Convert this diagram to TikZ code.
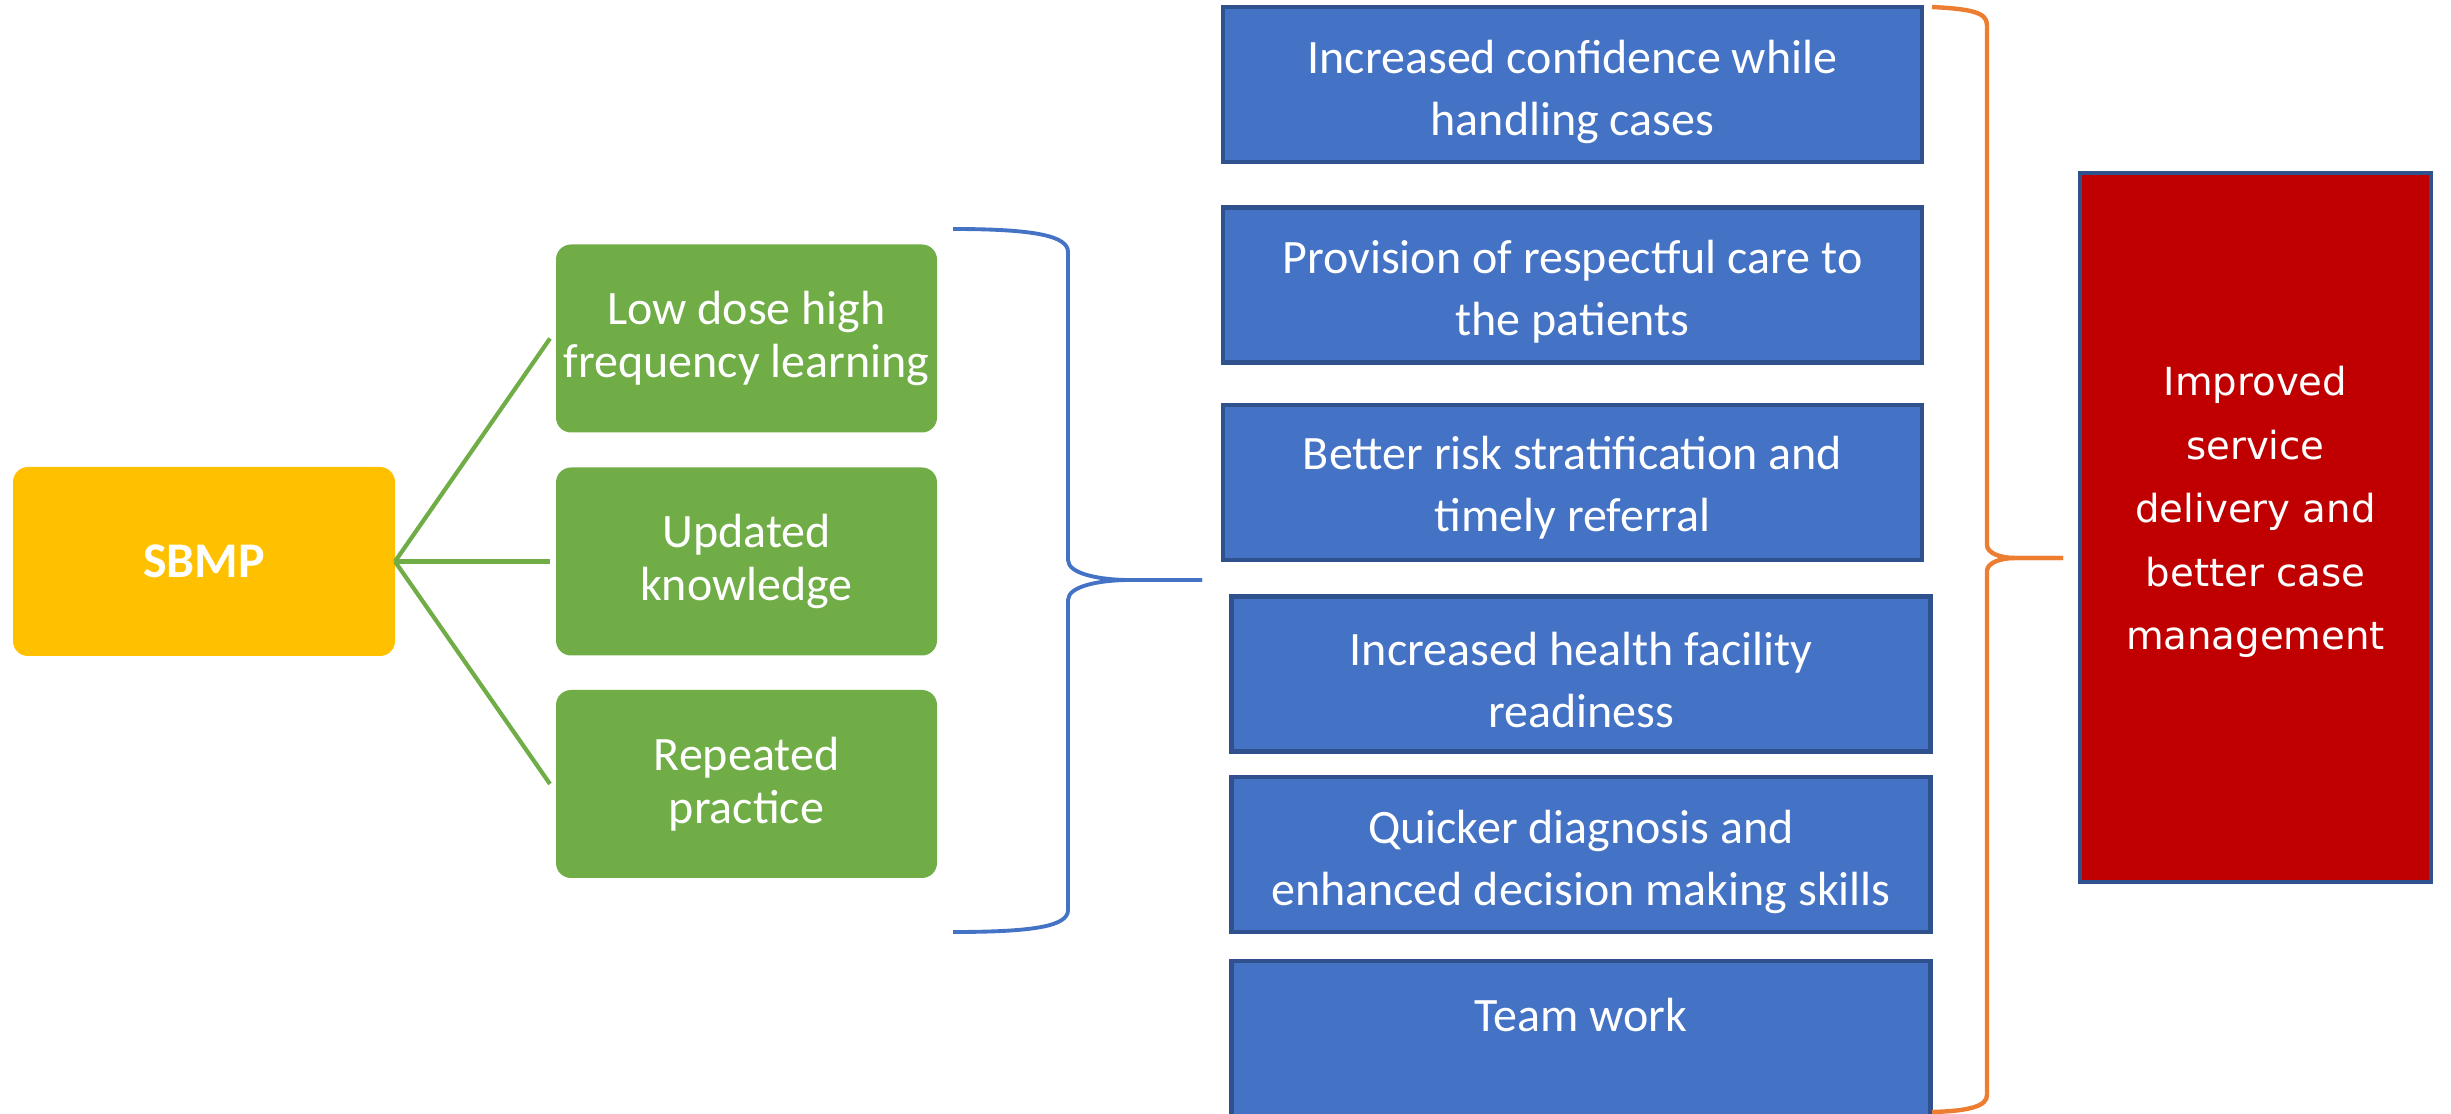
\documentclass[tikz,border=0pt]{standalone}
\usepackage{fontspec}
\setmainfont{Carlito}
\newfontfamily\verdfont{DejaVu Sans}
\definecolor{bluefill}{HTML}{4472C4}
\definecolor{blueline}{HTML}{2F528F}
\definecolor{greenfill}{HTML}{70AD47}
\definecolor{goldfill}{HTML}{FFC000}
\definecolor{redfill}{HTML}{C00000}
\definecolor{orangeline}{HTML}{ED7D31}
\begin{document}
\begin{tikzpicture}[x=0.1mm,y=-0.1mm,
  bluebox/.style={draw=blueline, fill=bluefill, line width=1.3pt, inner sep=0pt, outer sep=0pt, minimum width=69.9mm, minimum height=15.5mm},
  bluetext/.style={text=white, align=center, inner sep=0pt, font=\fontsize{13.66}{17.64}\selectfont},
  greenbox/.style={fill=greenfill, rounded corners=1.5mm, inner sep=0pt, outer sep=0pt, minimum width=38.1mm, minimum height=18.8mm, text=white, align=center, font=\fontsize{13.66}{15.08}\selectfont},
  gline/.style={draw=greenfill, line width=1.2pt},
  bbrace/.style={draw=bluefill, line width=1.1pt},
  obrace/.style={draw=orangeline, line width=1.25pt}]
\useasboundingbox (0,0) rectangle (2451,1114);

% left part
\node[fill=goldfill, rounded corners=1.5mm, inner sep=0pt, outer sep=0pt, minimum width=38.2mm, minimum height=18.9mm, text=white, font=\fontsize{14.2}{17}\selectfont\bfseries] (sbmp) at (204,561.5) {SBMP};
\node[greenbox] (g1) at (746.5,338.5) {Low dose high\\frequency learning};
\node[greenbox] (g2) at (746.5,561.5) {Updated\\knowledge};
\node[greenbox] (g3) at (746.5,784) {Repeated\\practice};
\draw[gline] (sbmp.east) -- ([xshift=-0.6mm]g1.west);
\draw[gline] (sbmp.east) -- ([xshift=-0.6mm]g2.west);
\draw[gline] (sbmp.east) -- ([xshift=-0.6mm]g3.west);

% blue brace
\coordinate (bt) at (953,229);
\coordinate (bb) at (953,932);
\coordinate (btip) at (1202,580);
\draw[bbrace] (bt) .. controls (1035,229) and (1068,236) .. (1068,252) -- (1068,560) .. controls (1068,574) and (1100,580) .. (1130,580) -- (btip);
\draw[bbrace] (btip) -- (1130,580) .. controls (1100,580) and (1068,586) .. (1068,600) -- (1068,910) .. controls (1068,926) and (1035,932) .. (bb);

% blue boxes
\node[bluebox] (b1) at (1572.5,84.5) {};
\node[bluebox] (b2) at (1572.5,285) {};
\node[bluebox] (b3) at (1572.5,482.5) {};
\node[bluebox] (b4) at (1581,674) {};
\node[bluebox] (b5) at (1581,854.5) {};
\node[bluebox, minimum height=16.8mm] (b6) at (1581,1045) {};
\node[bluetext] (t1) at (1572.5,91.5) {Increased confidence while\\handling cases};
\node[bluetext] (t2) at (1572.5,291.5) {Provision of respectful care to\\the patients};
\node[bluetext] (t3) at (1572.5,488) {Better risk stratification and\\timely referral};
\node[bluetext] (t4) at (1581,680) {Increased health facility\\readiness};
\node[bluetext] (t5) at (1581,862) {Quicker diagnosis and\\enhanced decision making skills};
\node[bluetext] (t6) at (1581,1015) {Team work};

% orange brace
\coordinate (ot) at (1932,7);
\coordinate (ob) at (1932,1112);
\coordinate (otip) at (2063,558);
\draw[obrace] (ot) .. controls (1970,9) and (1987,12) .. (1987,25) -- (1987,545) .. controls (1987,553) and (2000,558) .. (2015,558) -- (otip);
\draw[obrace] (otip) -- (2015,558) .. controls (2000,558) and (1987,563) .. (1987,571) -- (1987,1095) .. controls (1987,1106) and (1970,1111) .. (ob);

% red box
\node[draw=blueline, fill=redfill, line width=1.3pt, inner sep=0pt, outer sep=0pt, minimum width=35.1mm, minimum height=70.9mm] (red) at (2255.5,527.5) {};
\node[text=white, align=center, inner sep=0pt, font=\verdfont\fontsize{11}{18.07}\selectfont] (redtext) at (2255.5,512) {Improved\\service\\delivery and\\better case\\management};
\end{tikzpicture}
\end{document}
